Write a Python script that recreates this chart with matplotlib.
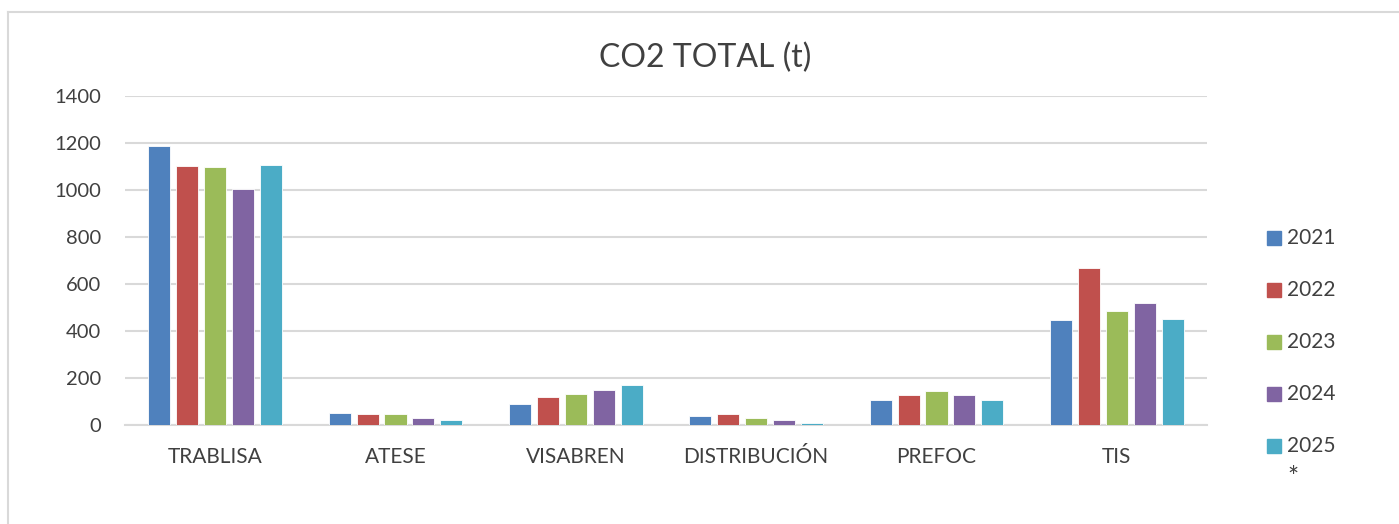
import matplotlib
matplotlib.use('Agg')
import matplotlib.pyplot as plt
import numpy as np
from matplotlib.patches import Rectangle
from matplotlib.lines import Line2D

# ── Data ─────────────────────────────────────────────────────────────────────
categories = ['TRABLISA', 'ATESE', 'VISABREN', 'DISTRIBUCIÓN', 'PREFOC', 'TIS']
years      = ['2021', '2022', '2023', '2024', '2025\n*']

co2_2021 = [1188, 52, 89, 40, 105, 448]
co2_2022 = [1102, 47, 119, 47, 126, 666]
co2_2023 = [1097, 47, 132, 28, 145, 487]
co2_2024 = [1006, 30, 149, 21, 129, 521]
co2_2025 = [1106, 20, 169, 8, 108, 452]

series = [co2_2021, co2_2022, co2_2023, co2_2024, co2_2025]
colors = ['#4F81BD', '#C0504D', '#9BBB59', '#8064A2', '#4BACC6']

# ── Plot ─────────────────────────────────────────────────────────────────────
plt.rcParams['font.family'] = ['Lato', 'DejaVu Sans']
W, H = 1399, 524
fig = plt.figure(figsize=(W / 100, H / 100), dpi=100)
ax = fig.add_axes([125 / W, 1 - 425 / H, (1207 - 125) / W, (425 - 96) / H])

x = np.arange(len(categories))
width = 0.122
step = 0.155
for i, (vals, c) in enumerate(zip(series, colors)):
    ax.bar(x + (i - 2) * step, vals, width, color=c,
           edgecolor='white', linewidth=0.6, zorder=3)

ax.set_xlim(-0.5, len(categories) - 0.5)
ax.set_ylim(0, 1400)
ax.set_yticks(range(0, 1401, 200))
ax.set_xticks(x)
ax.set_xticklabels(categories)
ax.tick_params(axis='both', length=0, colors='#404040')
ax.tick_params(axis='x', pad=16, labelsize=15)
ax.tick_params(axis='y', pad=17, labelsize=14.5)
ax.yaxis.grid(True, color='#D9D9D9', linewidth=1.5)
ax.set_axisbelow(True)
for s in ['top', 'right', 'left']:
    ax.spines[s].set_visible(False)
ax.spines['bottom'].set_color('#D9D9D9')
ax.spines['bottom'].set_linewidth(1.5)

fig.text(705 / W, 1 - 58 / H, 'CO2 TOTAL (t)', ha='center', va='center',
         fontsize=23, color='#404040')

# Legend (Excel-style, widely spaced entries)
for i, (yr, c) in enumerate(zip(years, colors)):
    yc = 238 + i * 52
    fig.add_artist(Rectangle((1267 / W, 1 - (yc + 7) / H), 14 / W, 14 / H,
                             transform=fig.transFigure, color=c))
    lines = yr.split('\n')
    fig.text(1287 / W, 1 - yc / H, lines[0], ha='left', va='center',
             fontsize=15, color='#404040')
    if len(lines) > 1:
        fig.text(1287 / W, 1 - (yc + 33) / H, lines[1], ha='left', va='center',
                 fontsize=19, color='#404040')

# Chart area border
fig.add_artist(Line2D([8 / W, 8 / W], [0, 1 - 12 / H], transform=fig.transFigure,
                      color='#D9D9D9', linewidth=1.5))
fig.add_artist(Line2D([8 / W, 1], [1 - 12 / H, 1 - 12 / H], transform=fig.transFigure,
                      color='#D9D9D9', linewidth=1.5))

fig.savefig('out.png', dpi=100)
